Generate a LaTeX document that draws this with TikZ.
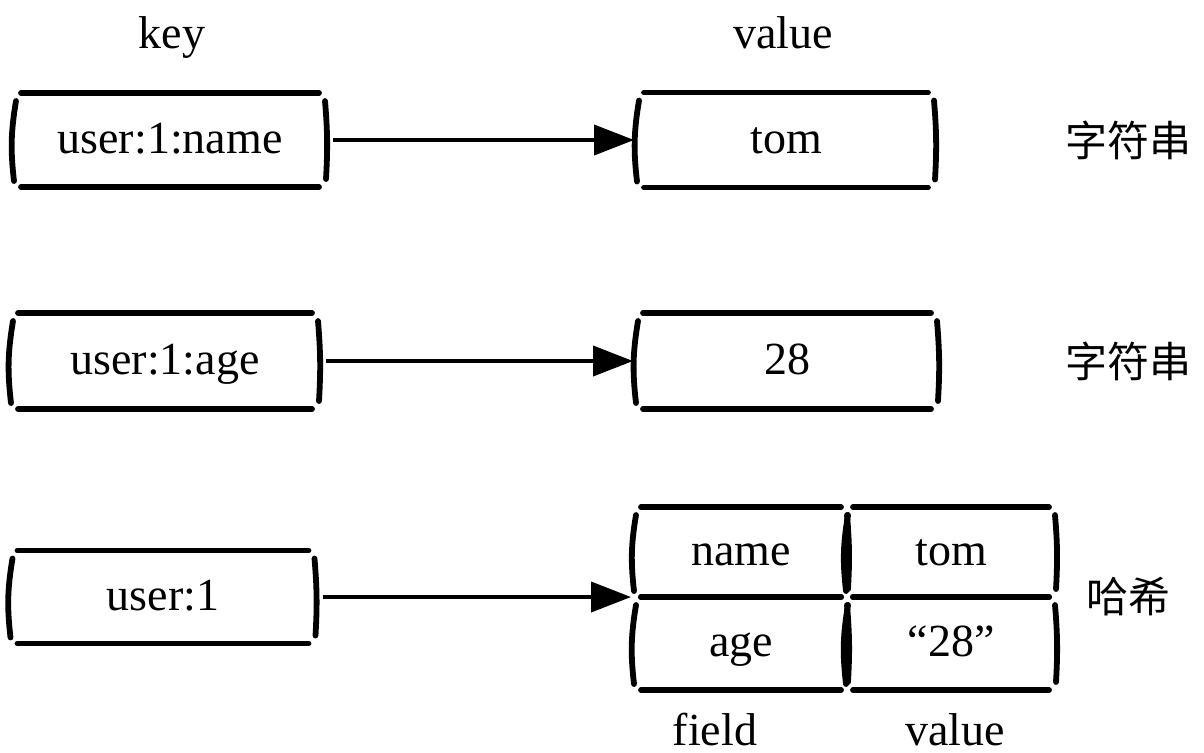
\documentclass[tikz,border=0pt]{standalone}
\usepackage{fontspec}
\setmainfont{Liberation Serif}
\newfontfamily\cjk{Noto Sans CJK SC}
\usetikzlibrary{arrows.meta}
\usetikzlibrary{positioning}
\usetikzlibrary{calc}

\begin{document}
\begin{tikzpicture}[x=0.5pt,y=-0.5pt]
\useasboundingbox (0,0) rectangle (1204,752);
\tikzset{stroke/.style={line width=2.9pt,line cap=round},
         link/.style={line width=2pt,-{Triangle[length=20pt,width=15pt]}}}
\begin{scope}[every node/.style={rectangle,inner sep=0pt,outer sep=0pt,text height=15pt,text depth=2pt,font=\fontsize{23}{27}\selectfont}]
    \node[minimum width=155pt,minimum height=47pt]   (keyname)   at (170,140) {user:1:name};
    \node[minimum width=148pt,minimum height=47.5pt] (valname)   at (786,140) {tom};
    \node[minimum width=153pt,minimum height=48pt]   (keyage)    at (165,361) {user:1:age};
    \node[minimum width=150pt,minimum height=48pt]   (valage)    at (787,361) {28};
    \node[minimum width=151.5pt,minimum height=46.5pt] (keyhash) at (163,597) {user:1};
    \node[minimum width=106pt,minimum height=45pt]   (fieldname) at (741,552) {name};
    \node[minimum width=104pt,minimum height=45pt,right=0pt of {fieldname}] (valtom) {tom};
    \node[minimum width=106pt,minimum height=46.5pt,below=0pt of {fieldname}] (fieldage) {age};
    \node[minimum width=104pt,minimum height=46.5pt,right=0pt of {fieldage}] (valnum) {“28”};
\end{scope}

\begin{scope}[every node/.style={anchor=base,font=\fontsize{23}{27}\selectfont}]
    \node (keyhead)   at (172,48)  {key};
    \node (valhead)   at (783,48)  {value};
    \node (fieldfoot) at (715,745) {field};
    \node (valfoot)   at (955,745) {value};
\end{scope}

\begin{scope}[every node/.style={font=\cjk\fontsize{21}{24}\selectfont}]
    \node (typename) at (1128,140) {字符串};
    \node (typeage)  at (1128,361) {字符串};
    \node (typehash) at (1128,597) {哈希};
\end{scope}

% hand drawn sides
\foreach \b in {keyname,valname,keyage,valage,keyhash,fieldname,valtom,fieldage,valnum} {
    \draw[stroke] ($(\b.north west)+(6,0)$) -- ($(\b.north east)+(-6,0)$);
    \draw[stroke] ($(\b.south west)+(6,0)$) -- ($(\b.south east)+(-6,0)$);
    \draw[stroke] ($(\b.north west)+(1,8)$) to[bend right=8] ($(\b.south west)+(-1,-6)$);
    \draw[stroke] ($(\b.north east)+(0,8)$) to[bend left=4] ($(\b.south east)+(1,-8)$);
}

\coordinate (hashin) at (fieldname.south west);
\draw[link, shorten <=4pt, shorten >=2pt] (keyname.east) -- (valname.west);
\draw[link, shorten <=4pt, shorten >=2pt] (keyage.east)  -- (valage.west);
\draw[link, shorten <=4pt, shorten >=2pt] (keyhash.east) -- (hashin);
\end{tikzpicture}
\end{document}
